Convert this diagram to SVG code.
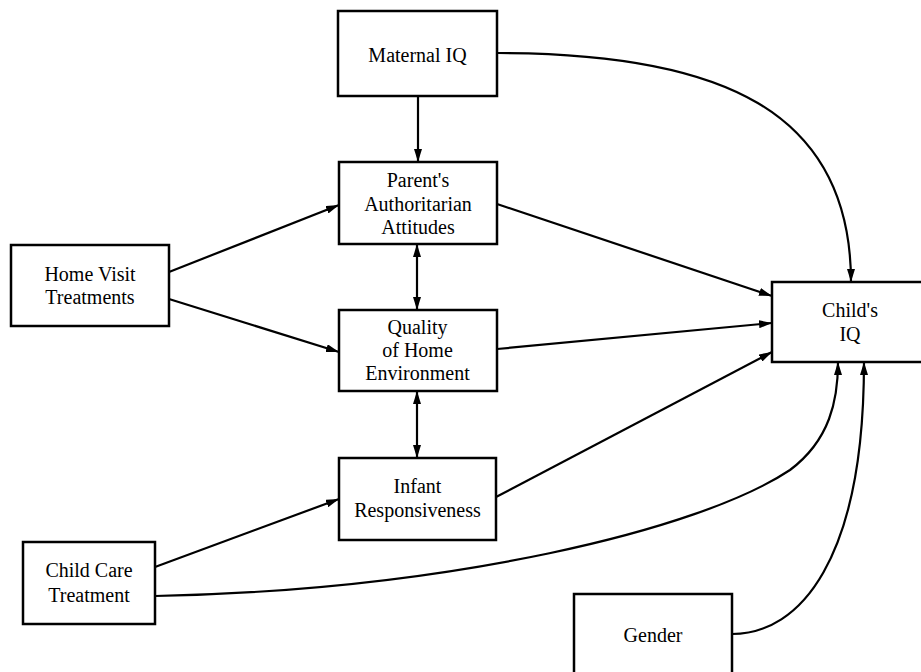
<svg xmlns="http://www.w3.org/2000/svg" width="921" height="672" viewBox="0 0 921 672">
<defs>
<marker id="ah" viewBox="0 0 13 8" refX="13" refY="4" markerWidth="13" markerHeight="8" markerUnits="userSpaceOnUse" orient="auto-start-reverse">
<path d="M0,0 L13,4 L0,8 Z" fill="#000"/>
</marker>
<style>
.box{fill:#fff;stroke:#000;stroke-width:2.5}
.t{font-family:"Liberation Serif","Times New Roman",serif;font-size:20px;fill:#000;text-anchor:middle}
.c{fill:none;stroke:#000;stroke-width:2.2}
</style>
</defs>
<rect width="921" height="672" fill="#fff"/>
<g id="connectors">
<path class="c" d="M418,96 L418,162" marker-end="url(#ah)"/>
<path class="c" d="M498,53 C720,53 851,110 851,282" marker-end="url(#ah)"/>
<path class="c" d="M497,204 L772,296" marker-end="url(#ah)"/>
<path class="c" d="M497,349 L772,323" marker-end="url(#ah)"/>
<path class="c" d="M496,497 L772,352" marker-end="url(#ah)"/>
<path class="c" d="M169,272 L339,205" marker-end="url(#ah)"/>
<path class="c" d="M169,299 L339,352" marker-end="url(#ah)"/>
<path class="c" d="M417,244 L417,310" marker-start="url(#ah)" marker-end="url(#ah)"/>
<path class="c" d="M417,391 L417,458" marker-start="url(#ah)" marker-end="url(#ah)"/>
<path class="c" d="M155,567 L339,499" marker-end="url(#ah)"/>
<path class="c" d="M155,596 C450,590 700,530 790,470 C830,440 838,400 838,362" marker-end="url(#ah)"/>
<path class="c" d="M732,634 C800,634 864,560 864,362" marker-end="url(#ah)"/>
</g>
<g id="maternal-iq">
<rect class="box" x="338" y="11" width="159" height="85"/>
<text class="t" x="417.5" y="62">Maternal IQ</text>
</g>
<g id="parents-attitudes">
<rect class="box" x="339" y="162" width="158" height="82"/>
<text class="t" x="418" y="187">Parent's</text>
<text class="t" x="418" y="210.5">Authoritarian</text>
<text class="t" x="418" y="234">Attitudes</text>
</g>
<g id="home-visit">
<rect class="box" x="11" y="245" width="158" height="81"/>
<text class="t" x="90" y="281">Home Visit</text>
<text class="t" x="90" y="304">Treatments</text>
</g>
<g id="home-environment">
<rect class="box" x="339" y="310" width="158" height="81"/>
<text class="t" x="417.5" y="334">Quality</text>
<text class="t" x="417.5" y="357">of Home</text>
<text class="t" x="417.5" y="380">Environment</text>
</g>
<g id="infant-responsiveness">
<rect class="box" x="339" y="458" width="157" height="82"/>
<text class="t" x="417.5" y="493">Infant</text>
<text class="t" x="417.5" y="517">Responsiveness</text>
</g>
<g id="child-care">
<rect class="box" x="23" y="542" width="132" height="82"/>
<text class="t" x="89" y="577">Child Care</text>
<text class="t" x="89" y="602">Treatment</text>
</g>
<g id="gender">
<rect class="box" x="574" y="594" width="158" height="100"/>
<text class="t" x="653" y="642">Gender</text>
</g>
<g id="childs-iq">
<rect class="box" x="772" y="282" width="160" height="80"/>
<text class="t" x="850" y="317">Child's</text>
<text class="t" x="850" y="341">IQ</text>
</g>
</svg>
